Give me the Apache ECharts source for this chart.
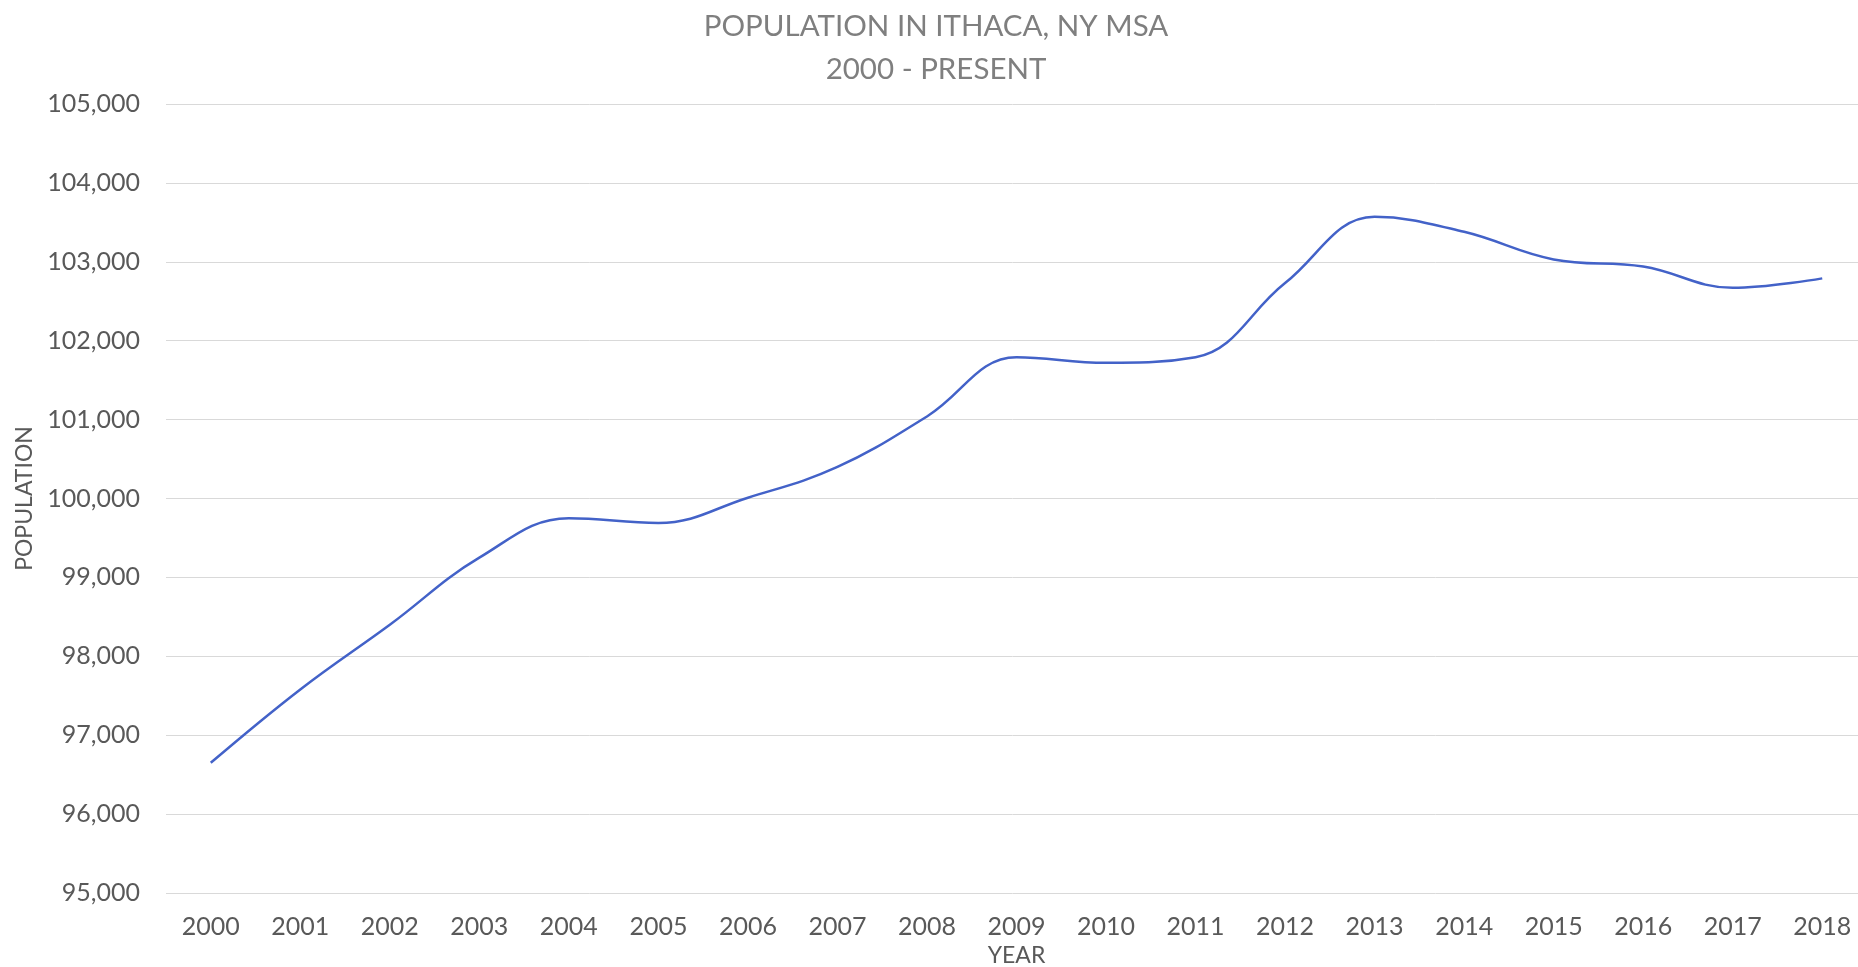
<!DOCTYPE html>
<html>
<head>
<meta charset="utf-8">
<title>Population in Ithaca, NY MSA</title>
<script src="https://cdn.jsdelivr.net/npm/echarts@6/dist/echarts.min.js"></script>
<style>
  html, body { margin: 0; padding: 0; background: #fff; }
  #main { width: 1858px; height: 967px; }
</style>
</head>
<body>
<div id="main"></div>
<script>
// data
var years = ['2000', '2001', '2002', '2003', '2004', '2005', '2006', '2007', '2008', '2009',
             '2010', '2011', '2012', '2013', '2014', '2015', '2016', '2017', '2018'];
var population = [96650, 97580, 98400, 99250, 99750, 99690, 100010, 100400, 101040, 101790,
                  101720, 101790, 102730, 103570, 103380, 103030, 102940, 102670, 102790];
var yMin = 95000;
var yMax = 105000;
var yStep = 1000;

var font = 'Lato, "Open Sans", sans-serif';
var textGray = '#595959';

var myChart = echarts.init(document.getElementById('main'));
myChart.setOption({
  animation: false,
  title: {
    text: 'POPULATION IN ITHACA, NY MSA\n2000 - PRESENT',
    left: 931,
    textAlign: 'center',
    top: 0,
    textStyle: {
      color: '#7f7f7f',
      fontFamily: font,
      fontWeight: 'normal',
      fontSize: 29.5,
      lineHeight: 43
    }
  },
  grid: {
    left: 166,
    right: -9,
    top: 104,
    bottom: 74,
    // keep the plot box where it is, labels sit outside it
    outerBoundsMode: 'none',
    containLabel: false
  },
  xAxis: {
    type: 'category',
    data: years,
    boundaryGap: true,
    name: 'YEAR',
    nameLocation: 'middle',
    nameGap: 43,
    nameTextStyle: { color: textGray, fontFamily: font, fontSize: 23 },
    axisLine: { show: false },
    axisTick: { show: false },
    axisLabel: { color: textGray, fontFamily: font, fontSize: 25, margin: 21 }
  },
  yAxis: {
    type: 'value',
    min: yMin,
    max: yMax,
    interval: yStep,
    name: 'POPULATION',
    nameLocation: 'middle',
    nameGap: 128,
    nameTextStyle: { color: textGray, fontFamily: font, fontSize: 23 },
    axisLine: { show: false },
    axisTick: { show: false },
    axisLabel: {
      color: textGray,
      fontFamily: font,
      fontSize: 25,
      margin: 26,
      formatter: function (v) { return v.toLocaleString('en-US'); }
    },
    splitLine: { lineStyle: { color: '#d9d9d9', width: 1 } }
  },
  series: [{
    name: 'Population',
    type: 'line',
    data: population,
    smooth: 0.4,
    symbol: 'none',
    lineStyle: { color: '#4362c8', width: 2.5 }
  }]
});
</script>
</body>
</html>
